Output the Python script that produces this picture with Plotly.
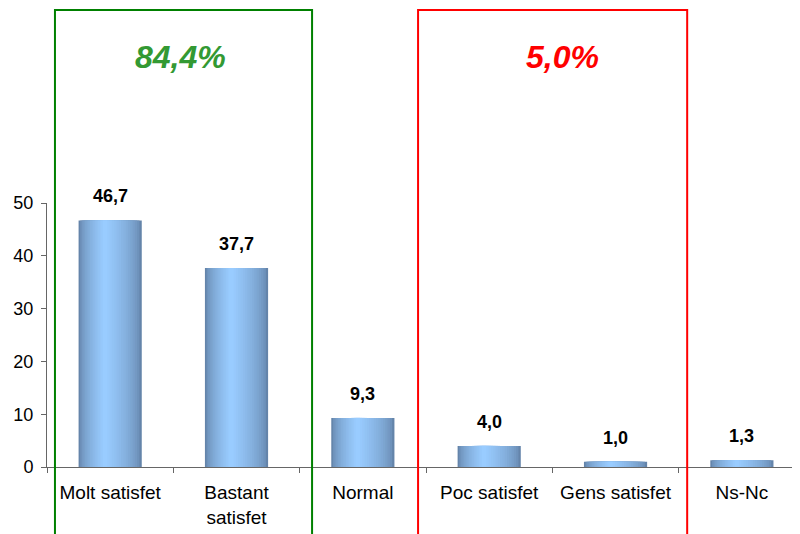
import plotly.graph_objects as go

categories = ["Molt satisfet", "Bastant<br>satisfet", "Normal", "Poc satisfet", "Gens satisfet", "Ns-Nc"]
values = [46.7, 37.7, 9.3, 4.0, 1.0, 1.3]
y_ticks = [0, 10, 20, 30, 40, 50]
group_labels = ["84,4%", "5,0%"]

def lerp(c1, c2, t):
    return "rgb(%d,%d,%d)" % tuple(round(a + (b - a) * t) for a, b in zip(c1, c2))

dark = (0x64, 0x84, 0xAA)
light = (0x99, 0xCC, 0xFF)

fig = go.Figure()
N = 16
for k in range(N):
    t = k / (N - 1)
    w = 0.5 * (1 - t * 0.93)
    center_shift = -0.04 * t
    col = lerp(dark, light, min(1.0, t ** 0.6))
    fig.add_trace(go.Bar(x=categories, y=values, width=w, offset=-w / 2 + center_shift,
                         marker=dict(color=col, line=dict(width=0)),
                         hoverinfo="skip", showlegend=False))

for c, v in zip(categories, values):
    fig.add_annotation(x=c, y=v, text="<b>%s</b>" % f"{v:.1f}".replace(".", ","), showarrow=False,
                       yanchor="middle", yshift=24, font=dict(family="Liberation Sans, Arial", size=18, color="black"))

# group boxes
fig.add_shape(type="rect", xref="x", yref="paper", x0=-0.437, x1=1.598, y0=-0.3, y1=1.731,
              line=dict(color="#008000", width=2), fillcolor="rgba(0,0,0,0)", layer="above")
fig.add_shape(type="rect", xref="x", yref="paper", x0=2.437, x1=4.567, y0=-0.3, y1=1.731,
              line=dict(color="#FF0000", width=2), fillcolor="rgba(0,0,0,0)", layer="above")

fig.add_annotation(x=0.553, xref="x", y=1.553, yref="paper", yanchor="middle", xanchor="center",
                   text="<b><i>%s</i></b>" % group_labels[0],
                   showarrow=False, font=dict(family="Liberation Sans, Arial", size=32, color="#339933"))
fig.add_annotation(x=3.578, xref="x", y=1.553, yref="paper", yanchor="middle", xanchor="center",
                   text="<b><i>%s</i></b>" % group_labels[1],
                   showarrow=False, font=dict(family="Liberation Sans, Arial", size=32, color="#FF0000"))

fig.update_layout(
    width=792, height=526,
    margin=dict(l=39, r=0, t=195, b=67),
    paper_bgcolor="white", plot_bgcolor="white",
    barmode="overlay",
    font=dict(family="Liberation Sans, Arial", size=18, color="black"),
    xaxis=dict(type="category", range=[-0.5, 5.46], showline=True, linecolor="#666666", linewidth=1,
               ticks="outside", ticklen=5, tickcolor="#666666", tickson="boundaries", automargin=False,
               ticklabelstandoff=8,
               showgrid=False, zeroline=False, tickfont=dict(size=19, color="black")),
    yaxis=dict(range=[0, 50], tickvals=y_ticks, showline=True, linecolor="#666666", linewidth=1,
               ticks="outside", ticklen=5, tickcolor="#666666", showgrid=False, zeroline=False,
               ticklabelstandoff=4,
               automargin=False, tickfont=dict(size=18, color="black")),
)

fig.write_html("out.html")
